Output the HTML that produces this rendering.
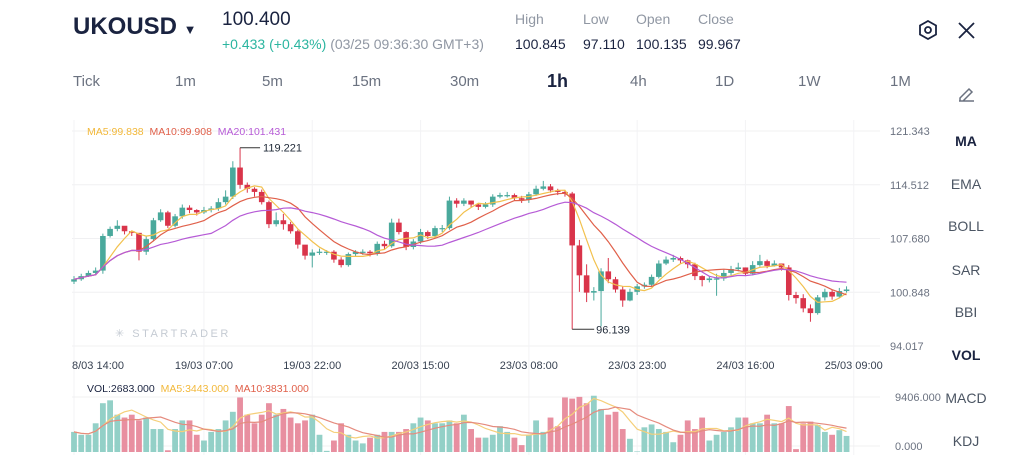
<!DOCTYPE html>
<html><head><meta charset="utf-8">
<style>
body{margin:0;width:1024px;height:471px;background:#fff;font-family:"Liberation Sans",sans-serif;overflow:hidden;position:relative;color:#1a2340}
.a{position:absolute;white-space:nowrap}
.g{color:#9097a3}
.tf{position:absolute;top:73px;font-size:15px;color:#6b7280}
.side{position:absolute;left:966px;transform:translateX(-50%);font-size:14px;color:#4b5563}
</style></head><body>
<div class="a" style="left:73px;top:13px;font-size:24px;font-weight:bold">UKOUSD <span style="font-size:13px">▼</span></div>
<div class="a" style="left:222px;top:9px;font-size:19px">100.400</div>
<div class="a" style="left:222px;top:36px;font-size:14px;color:#2bb5a0">+0.433 (+0.43%) <span class="g">(03/25 09:36:30 GMT+3)</span></div>
<div class="a g" style="left:515px;top:11px;font-size:14px">High</div>
<div class="a" style="left:515px;top:36px;font-size:14px">100.845</div>
<div class="a g" style="left:583px;top:11px;font-size:14px">Low</div>
<div class="a" style="left:583px;top:36px;font-size:14px">97.110</div>
<div class="a g" style="left:636px;top:11px;font-size:14px">Open</div>
<div class="a" style="left:636px;top:36px;font-size:14px">100.135</div>
<div class="a g" style="left:698px;top:11px;font-size:14px">Close</div>
<div class="a" style="left:698px;top:36px;font-size:14px">99.967</div>
<svg class="a" style="left:918px;top:20px" width="20" height="20" viewBox="0 0 20 20"><polygon points="10,1 18,5.5 18,14.5 10,19 2,14.5 2,5.5" fill="none" stroke="#1a2340" stroke-width="1.8"/><circle cx="10" cy="10" r="3" fill="none" stroke="#1a2340" stroke-width="1.8"/></svg>
<svg class="a" style="left:958px;top:22px" width="17" height="17"><path d="M1 1L16 16M16 1L1 16" stroke="#1a2340" stroke-width="1.8"/></svg>
<div class="tf" style="left:73px">Tick</div>
<div class="tf" style="left:175px">1m</div>
<div class="tf" style="left:262px">5m</div>
<div class="tf" style="left:352px">15m</div>
<div class="tf" style="left:450px">30m</div>
<div class="tf" style="left:547px;top:71px;font-size:18px;font-weight:bold;color:#1a2340">1h</div>
<div class="tf" style="left:630px">4h</div>
<div class="tf" style="left:715px">1D</div>
<div class="tf" style="left:798px">1W</div>
<div class="tf" style="left:890px">1M</div>
<svg class="a" style="left:957px;top:84px" width="18" height="18"><path d="M3 14L12 5L15 8L6 17H3Z M2 17H17" fill="none" stroke="#6b7280" stroke-width="1.5"/></svg>
<div class="side" style="top:133px;font-weight:bold;color:#1a2340">MA</div>
<div class="side" style="top:176px">EMA</div>
<div class="side" style="top:218px">BOLL</div>
<div class="side" style="top:262px">SAR</div>
<div class="side" style="top:304px">BBI</div>
<div class="side" style="top:347px;font-weight:bold;color:#1a2340">VOL</div>
<div class="side" style="top:390px">MACD</div>
<div class="side" style="top:433px">KDJ</div>
<svg id="c" class="a" style="left:0;top:0" width="1024" height="471"></svg>
<script>
const closes=[102.5,102.9,103.3,103.6,108.0,108.9,109.3,108.6,108.4,106.0,107.6,110.0,111.0,109.3,110.5,111.6,111.3,111.0,111.3,111.5,112.3,113.0,116.7,114.5,114.0,113.6,112.3,109.5,110.0,109.5,108.6,106.9,105.5,105.9,106.0,106.0,105.0,104.3,105.7,106.0,106.0,105.8,107.0,106.7,109.7,108.5,106.6,107.3,108.5,108.0,109.0,109.0,112.5,112.1,112.5,112.0,111.7,112.0,113.0,113.2,113.2,112.8,112.6,113.3,114.0,114.3,113.8,113.6,113.4,106.8,103.0,100.8,101.0,103.5,102.5,101.2,99.8,100.9,101.6,101.8,102.8,104.5,105.0,105.2,104.9,104.4,102.9,102.4,102.6,102.6,103.3,103.8,104.0,103.2,104.3,104.8,104.2,104.5,104.0,100.5,100.1,98.8,98.2,100.2,100.9,100.3,101.0,101.2];
const highs=[102.9,103.2,103.6,104.0,108.3,109.2,110.0,109.2,108.7,108.3,108.0,110.3,111.4,111.2,110.8,112.0,111.9,111.4,111.7,111.8,112.8,113.8,117.5,119.221,114.8,114.2,113.9,112.5,111.0,110.8,109.8,108.8,106.8,106.3,106.4,106.2,106.2,105.3,105.9,106.2,106.3,106.2,107.3,107.4,110.2,110.2,108.6,107.6,108.9,108.7,109.3,109.4,113.0,112.8,112.8,112.5,112.1,112.3,113.3,113.5,113.6,113.4,113.1,113.6,114.4,115.0,114.6,114.0,113.8,113.6,107.5,104.4,101.5,103.9,105.2,102.8,101.6,101.3,101.9,102.1,103.1,104.9,105.4,105.6,105.4,105.0,104.6,103.0,102.9,103.2,103.7,104.2,104.6,104.0,104.8,105.6,105.0,104.9,104.5,104.3,100.9,100.6,99.3,100.5,101.3,101.2,101.4,101.6];
const lows=[101.9,102.3,102.8,103.0,103.2,107.8,108.6,108.2,108.0,104.9,105.6,107.3,109.8,109.0,109.1,110.2,110.9,110.6,110.8,111.0,111.2,112.0,112.7,114.0,113.5,113.0,112.0,109.0,109.2,108.8,108.3,106.4,105.0,104.0,105.6,105.6,104.6,104.0,104.1,105.4,105.6,105.4,105.5,106.3,106.5,108.2,106.2,106.3,107.0,107.6,107.7,108.5,108.8,111.6,111.8,111.6,111.3,111.5,111.7,112.8,112.9,112.5,112.2,112.2,113.1,113.8,113.5,113.2,113.0,96.139,100.9,99.6,99.8,96.5,102.0,100.8,99.0,99.7,100.5,101.3,101.5,102.6,104.3,104.7,104.5,103.9,102.4,101.6,102.1,100.4,102.3,103.0,103.5,102.9,103.0,104.1,103.9,104.1,103.6,99.8,99.4,98.3,97.1,98.0,99.8,99.9,100.1,100.8];
const vols=[3500,3000,3000,5000,8500,9000,6500,6000,6500,5500,6000,4000,4000,300,4000,5500,5500,3000,2000,3500,4000,5500,7000,9500,6500,5000,6500,8500,6500,7500,6000,5000,5500,6500,3000,200,2000,5000,3000,2000,1500,2500,3000,3500,3500,3500,4000,5000,6000,5500,5000,5000,5500,5000,6500,4000,2500,2500,3000,4500,3500,2500,1200,3000,5500,3500,6000,4500,9500,9300,9600,8500,9800,7500,6500,7000,4000,2300,100,4300,4800,4000,3500,1700,3000,5500,4000,6000,2000,3000,3500,4300,6000,6000,5000,5000,6500,5000,5000,8000,500,5000,5300,4700,3500,3000,3800,2800];
const priceTicks=["121.343","114.512","107.680","100.848","94.017"];
const timeLabels=["8/03 14:00","19/03 07:00","19/03 22:00","20/03 15:00","23/03 08:00","23/03 23:00","24/03 16:00","25/03 09:00"];
const timeIdx=[0,18,33,48,63,78,93,108];
const svg=document.getElementById('c');const NS='http://www.w3.org/2000/svg';
function mk(t,at,txt){const e=document.createElementNS(NS,t);for(const k in at)e.setAttribute(k,at[k]);if(txt!=null)e.textContent=txt;svg.appendChild(e);return e;}
const x=i=>74+i*7.22;
const pTop=121.343,pBot=94.017,yTop=131,yBot=346;
const y=p=>yTop+(pTop-p)/(pTop-pBot)*(yBot-yTop);
const vMax=9406,vBase=452,vTopY=398;
const vy=v=>vBase-v/vMax*(vBase-vTopY);
const GREEN='#4aa99c',RED='#d9344a';
priceTicks.forEach((t,k)=>{const yy=yTop+k*(yBot-yTop)/4;
let l=mk('line',{x1:72,x2:880,y1:yy,y2:yy,stroke:'#f0f0f2'});
let tx=mk('text',{x:890,y:yy+4,'font-size':11,fill:'#6b7280'},t);});
timeLabels.forEach((t,k)=>{const xx=x(timeIdx[k]);
let l=mk('line',{x1:xx,x2:xx,y1:120,y2:455,stroke:'#f3f3f5'});
let tx=mk('text',{x:k==0?72:xx,y:369,'font-size':11,fill:'#374151','text-anchor':k==0?'start':'middle'},t);});
[[397,'9406.000'],[446,'0.000']].forEach(([yy,t])=>{let l=mk('line',{x1:72,x2:880,y1:yy,y2:yy,stroke:'#f0f0f2'});
let tx=mk('text',{x:895,y:yy+4,'font-size':11,fill:'#6b7280'},t);});
let wm=mk('text',{x:115,y:337,'font-size':11,fill:'#c5cbd3','letter-spacing':'2.5'},'✳ STARTRADER');
closes.forEach((c,i)=>{const o=i?closes[i-1]:c-0.3;const up=c>=o;const col=up?GREEN:RED;
let w=mk('line',{x1:x(i),x2:x(i),y1:y(highs[i]),y2:y(lows[i]),stroke:col,'stroke-width':1});
const t=y(Math.max(o,c)),b=y(Math.min(o,c));
let r=mk('rect',{x:x(i)-2.8,y:t,width:5.6,height:Math.max(1.2,b-t),fill:col});
let v=mk('rect',{x:x(i)-2.9,y:vy(vols[i]),width:5.8,height:vBase-vy(vols[i]),fill:up?'#93d0c7':'#e88fa0'});});
function ma(arr,n){return arr.map((_,i)=>{const s=arr.slice(Math.max(0,i-n+1),i+1);return s.reduce((a,b)=>a+b,0)/s.length;});}
function line(vals,f,col,name){const d=vals.map((v,i)=>(i?'L':'M')+x(i).toFixed(1)+' '+f(v).toFixed(1)).join('');let p=mk('path',{d:d,fill:'none',stroke:col,'stroke-width':1.2});}
line(ma(closes,5),y,'#f2c14e','ma5-line');line(ma(closes,10),y,'#e0604a','ma10-line');line(ma(closes,20),y,'#b65bd6','ma20-line');
line(ma(vols,5),vy,'#f5cf7a','vol-ma5-line');line(ma(vols,10),vy,'#e58b7e','vol-ma10-line');
const hi=23,lo=69;
let a1=mk('path',{d:`M${x(hi)} ${y(highs[hi])}H${x(hi)+20}`,stroke:'#333',fill:'none'});
let t1=mk('text',{x:x(hi)+23,y:y(highs[hi])+4,'font-size':11,fill:'#1f2937'},highs[hi].toFixed(3));
let a2=mk('path',{d:`M${x(lo)} ${y(lows[lo])}H${x(lo)+22}`,stroke:'#333',fill:'none'});
let t2=mk('text',{x:x(lo)+24,y:y(lows[lo])+4,'font-size':11,fill:'#1f2937'},lows[lo].toFixed(3));
</script>
<div class="a" style="left:87px;top:126px;font-size:10.5px"><span style="color:#f2b83a">MA5:99.838</span>&nbsp; <span style="color:#e0604a">MA10:99.908</span>&nbsp; <span style="color:#b65bd6">MA20:101.431</span></div>
<div class="a" style="left:87px;top:383px;font-size:10.5px"><span style="color:#1a2340">VOL:2683.000</span>&nbsp; <span style="color:#f2b83a">MA5:3443.000</span>&nbsp; <span style="color:#e0604a">MA10:3831.000</span></div>
</body></html>
